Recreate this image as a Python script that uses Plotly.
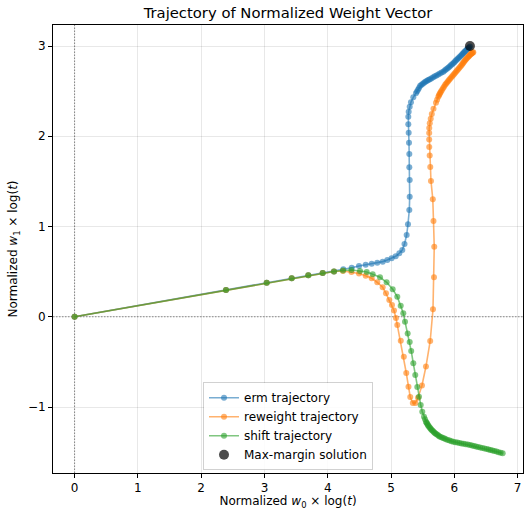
import plotly.graph_objects as go

# Shared start of all trajectories
shared_x = [0.0, 2.392, 3.035, 3.430, 3.692, 3.919, 4.098]
shared_y = [0.0, 0.297, 0.378, 0.427, 0.460, 0.485, 0.502]

erm_x = [4.245, 4.378, 4.493, 4.599, 4.694, 4.782, 4.867, 4.940, 5.009, 5.073, 5.130, 5.177,
         5.212, 5.246, 5.267, 5.288, 5.294, 5.294, 5.288, 5.288, 5.283, 5.278, 5.272, 5.272,
         5.278, 5.294, 5.314, 5.351,
         5.393, 5.409, 5.425, 5.441, 5.457, 5.476, 5.496, 5.516, 5.536, 5.555, 5.575, 5.595,
         5.615, 5.640, 5.666, 5.691, 5.717, 5.744, 5.771, 5.798, 5.825, 5.846, 5.866, 5.887,
         5.907, 5.926, 5.945, 5.964, 5.983, 6.000, 6.016, 6.032, 6.049, 6.066, 6.082, 6.099,
         6.115, 6.128, 6.141, 6.154, 6.167, 6.180, 6.194, 6.207, 6.220, 6.233, 6.246]
erm_y = [0.526, 0.544, 0.563, 0.577, 0.588, 0.599, 0.611, 0.629, 0.648, 0.670, 0.704, 0.740,
         0.807, 0.906, 1.025, 1.183, 1.331, 1.516, 1.657, 1.804, 1.929, 2.040, 2.133, 2.217,
         2.273, 2.328, 2.377, 2.432,
         2.476, 2.496, 2.515, 2.536, 2.557, 2.569, 2.580, 2.591, 2.601, 2.610, 2.618, 2.625,
         2.632, 2.643, 2.653, 2.664, 2.674, 2.685, 2.695, 2.706, 2.716, 2.728, 2.739, 2.751,
         2.762, 2.774, 2.786, 2.798, 2.809, 2.821, 2.833, 2.845, 2.857, 2.868, 2.879, 2.890,
         2.901, 2.911, 2.921, 2.931, 2.940, 2.949, 2.958, 2.967, 2.975, 2.985, 2.995]

reweight_x = [4.240, 4.374, 4.493, 4.599, 4.694, 4.782, 4.867, 4.919, 4.972, 5.014, 5.046, 5.077,
              5.098, 5.153, 5.201, 5.240, 5.275, 5.303, 5.343, 5.385, 5.425, 5.488, 5.551, 5.618,
              5.662, 5.678, 5.682, 5.670, 5.659, 5.630, 5.619, 5.610, 5.603, 5.602, 5.602, 5.603,
              5.611, 5.626, 5.643, 5.670, 5.709,
              5.727, 5.746, 5.757, 5.767, 5.778, 5.788, 5.804, 5.820, 5.836, 5.852, 5.868, 5.884,
              5.900, 5.915, 5.932, 5.949, 5.966, 5.983, 6.000, 6.016, 6.032, 6.049, 6.066, 6.082,
              6.099, 6.115, 6.128, 6.141, 6.154, 6.167, 6.180, 6.194, 6.207, 6.220, 6.231, 6.241,
              6.252, 6.262, 6.272, 6.281, 6.290, 6.299]
reweight_y = [0.507, 0.496, 0.480, 0.455, 0.427, 0.382, 0.327, 0.260, 0.186, 0.131, 0.070, -0.013,
              -0.091, -0.265, -0.442, -0.623, -0.775, -0.889, -0.955, -0.955, -0.898, -0.761, -0.551, -0.268,
              0.083, 0.438, 0.777, 1.061, 1.302, 1.505, 1.660, 1.787, 1.881, 1.965, 2.037, 2.092,
              2.144, 2.194, 2.247, 2.305, 2.372,
              2.405, 2.439, 2.454, 2.468, 2.482, 2.496, 2.514, 2.532, 2.550, 2.568, 2.582, 2.596,
              2.610, 2.624, 2.638, 2.652, 2.666, 2.679, 2.693, 2.707, 2.721, 2.735, 2.749, 2.763,
              2.777, 2.790, 2.803, 2.815, 2.828, 2.840, 2.851, 2.861, 2.872, 2.882, 2.890, 2.897,
              2.905, 2.912, 2.917, 2.922, 2.927, 2.931]

shift_x = [4.240, 4.374, 4.509, 4.615, 4.709, 4.825, 4.930, 5.025, 5.098, 5.152, 5.193, 5.220,
           5.262, 5.294, 5.318, 5.351, 5.382, 5.414, 5.441, 5.468, 5.493, 5.520,
           5.536, 5.551, 5.561, 5.571, 5.581, 5.591, 5.604, 5.616, 5.629, 5.641, 5.656, 5.671,
           5.686, 5.701, 5.719, 5.737, 5.755, 5.773, 5.797, 5.820, 5.844, 5.867, 5.896, 5.925,
           5.954, 5.983, 6.016, 6.048, 6.080, 6.112, 6.146, 6.179, 6.213, 6.246, 6.278, 6.310,
           6.342, 6.373, 6.407, 6.441, 6.476, 6.510, 6.541, 6.571, 6.602, 6.633, 6.666, 6.698,
           6.731, 6.763]
shift_y = [0.513, 0.519, 0.507, 0.496, 0.471, 0.438, 0.382, 0.305, 0.223, 0.123, 0.039, -0.054,
           -0.185, -0.279, -0.379, -0.515, -0.645, -0.778, -0.885, -0.977, -1.052, -1.107,
           -1.135, -1.162, -1.174, -1.186, -1.198, -1.210, -1.221, -1.232, -1.243, -1.254, -1.264, -1.274,
           -1.284, -1.293, -1.302, -1.311, -1.320, -1.329, -1.336, -1.343, -1.350, -1.357, -1.364, -1.371,
           -1.378, -1.384, -1.389, -1.394, -1.399, -1.404, -1.408, -1.412, -1.416, -1.420, -1.426, -1.432,
           -1.438, -1.443, -1.449, -1.454, -1.460, -1.465, -1.471, -1.476, -1.482, -1.487, -1.494, -1.500,
           -1.506, -1.512]

max_margin_x = [6.246]
max_margin_y = [3.0]

series = [
    ("erm trajectory", erm_x, erm_y, (31, 119, 180)),
    ("reweight trajectory", reweight_x, reweight_y, (255, 127, 14)),
    ("shift trajectory", shift_x, shift_y, (44, 160, 44)),
]

FONT = "DejaVu Sans"
fig = go.Figure()
for name, xs, ys, (r, g, b) in series:
    c = f"rgba({r},{g},{b},0.6)"
    fig.add_trace(go.Scatter(
        x=shared_x + xs, y=shared_y + ys, name=name, mode="lines+markers",
        line=dict(color=c, width=1.6),
        marker=dict(color=c, size=6, line=dict(width=0)),
    ))

fig.add_trace(go.Scatter(
    x=max_margin_x, y=max_margin_y, name="Max-margin solution", mode="markers",
    marker=dict(color="rgba(0,0,0,0.7)", size=10, line=dict(width=0)),
))

zl = dict(color="rgba(110,110,110,0.75)", width=1, dash="1.5px,1.5px")
fig.add_hline(y=0, line=zl, layer="below")
fig.add_vline(x=0, line=zl, layer="below")

axis_common = dict(
    showline=True, linecolor="black", linewidth=1, mirror=True,
    ticks="outside", ticklen=4, tickcolor="black", tickwidth=1,
    showgrid=True, gridcolor="rgba(0,0,0,0.09)", gridwidth=1,
    zeroline=False, tickfont=dict(family=FONT, size=12, color="black"),
    title_font=dict(family=FONT, size=12, color="black"), automargin=False,
)

fig.update_layout(
    width=524, height=510,
    margin=dict(l=53, r=1, t=25, b=37),
    paper_bgcolor="white", plot_bgcolor="white",
    font=dict(family=FONT, size=12, color="black"),
    title=dict(text="Trajectory of Normalized Weight Vector", x=0.5, xref="paper", xanchor="center",
               y=1 - 13 / 510, yanchor="middle", font=dict(family=FONT, size=14.8, color="black")),
    xaxis=dict(axis_common, range=[-0.341, 7.084], tickvals=[0, 1, 2, 3, 4, 5, 6, 7],
               title=dict(text="Normalized <i>w</i><sub>0</sub> × log(<i>t</i>)", standoff=13)),
    yaxis=dict(axis_common, range=[-1.731, 3.233], tickvals=[-1, 0, 1, 2, 3],
               title=dict(text="Normalized <i>w</i><sub>1</sub> × log(<i>t</i>)", standoff=7)),
    legend=dict(x=0.5, xanchor="center", y=0.006, yanchor="bottom",
                bgcolor="rgba(255,255,255,0.85)", bordercolor="rgba(0,0,0,0.18)", borderwidth=1,
                font=dict(family=FONT, size=12, color="black"), tracegroupgap=0, itemwidth=30),
    showlegend=True,
)

fig.write_html("out.html")
